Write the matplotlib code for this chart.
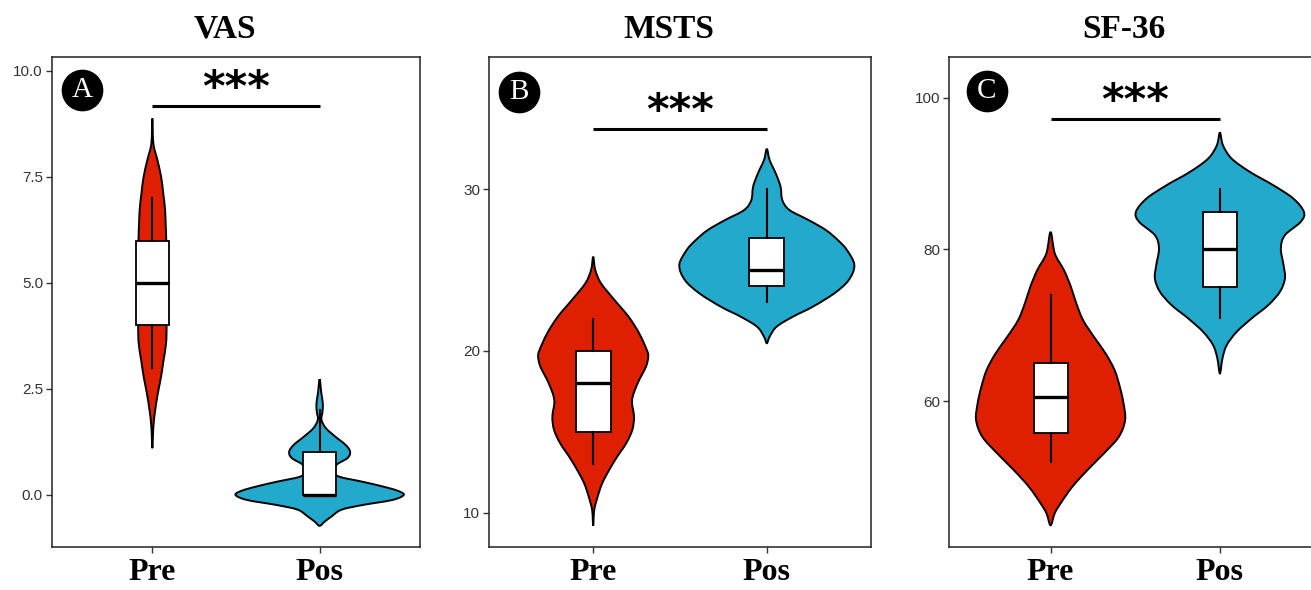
import matplotlib.pyplot as plt
from matplotlib.path import Path
from matplotlib.patches import PathPatch

groups = ["Pre", "Pos"]
titles = ["VAS", "MSTS", "SF-36"]
tags = ["A", "B", "C"]
colors = ["#DE2000", "#23A9CC"]

# violin outlines: value and half-width (in x units)
vas_pre_y = [8.88, 8.29, 7.90, 7.51, 7.12, 6.72, 6.33, 6.0, 5.0, 4.0, 3.58, 3.18, 2.79, 2.40, 2.0, 1.61, 1.10]
vas_pre_w = [0, 0.006, 0.030, 0.052, 0.065, 0.076, 0.080, 0.083, 0.086, 0.085, 0.082, 0.067, 0.052, 0.033, 0.017, 0.006, 0]
vas_pos_y = [2.73, 2.40, 2.16, 1.96, 1.77, 1.57, 1.37, 1.18, 1.02, 0.87, 0.71, 0.55, 0.43, 0.31, 0.20, 0.10, 0.0,
             -0.12, -0.24, -0.35, -0.51, -0.63, -0.73]
vas_pos_w = [0, 0.010, 0.019, 0.017, 0.011, 0.038, 0.095, 0.155, 0.182, 0.167, 0.101, 0.089, 0.116, 0.256, 0.375,
             0.464, 0.503, 0.435, 0.256, 0.131, 0.071, 0.030, 0]

msts_pre_y = [25.83, 25.01, 24.19, 23.15, 22.12, 21.09, 20.06, 19.65, 19.03, 18.0, 16.97, 15.94, 15.11, 14.29,
              13.46, 12.64, 11.82, 11.0, 10.17, 9.2]
msts_pre_w = [0, 0.012, 0.045, 0.123, 0.204, 0.265, 0.309, 0.317, 0.304, 0.256, 0.224, 0.235, 0.225, 0.190,
              0.138, 0.092, 0.052, 0.026, 0.006, 0]
msts_pos_y = [32.5, 31.81, 30.99, 30.16, 29.34, 28.72, 28.10, 27.48, 26.86, 26.25, 25.32, 24.39, 23.57, 22.74,
              22.12, 21.50, 20.88, 20.48]
msts_pos_w = [0, 0.016, 0.051, 0.079, 0.089, 0.130, 0.240, 0.340, 0.409, 0.461, 0.504, 0.472, 0.389, 0.265,
              0.150, 0.056, 0.016, 0]

sf36_pre_y = [82.3, 79.47, 77.27, 75.07, 72.88, 70.67, 68.47, 66.28, 64.08, 61.87, 59.68, 57.48, 55.28, 53.09,
              50.88, 48.68, 46.49, 45.17, 43.6]
sf36_pre_w = [0, 0.025, 0.079, 0.120, 0.152, 0.192, 0.256, 0.325, 0.378, 0.409, 0.431, 0.440, 0.403, 0.315,
              0.217, 0.128, 0.059, 0.024, 0]
sf36_pos_y = [95.44, 93.76, 92.0, 90.24, 88.48, 86.73, 84.96, 83.64, 81.89, 80.13, 77.93, 76.17, 74.41, 72.65,
              70.9, 69.13, 67.37, 65.62, 63.64]
sf36_pos_w = [0, 0.018, 0.069, 0.177, 0.315, 0.433, 0.496, 0.477, 0.384, 0.360, 0.376, 0.384, 0.354, 0.285,
              0.187, 0.099, 0.040, 0.015, 0]

# box stats: whisker low, q1, median, q3, whisker high
vas_pre_box = [3, 4, 5, 6, 7]
vas_pos_box = [0, 0, 0, 1, 2]
msts_pre_box = [13, 15, 18, 20, 22]
msts_pos_box = [23, 24, 25, 27, 30]
sf36_pre_box = [52, 55.75, 60.5, 65, 74]
sf36_pos_box = [71, 75, 80, 85, 88]

sig_y = [9.17, 33.75, 97.23]
ylims = [(-1.23, 10.33), (7.88, 38.18), (40.74, 105.4)]
yticks = [[0, 2.5, 5.0, 7.5, 10.0], [10, 20, 30], [60, 80, 100]]
ytick_fmt = ["{:.1f}", "{:.0f}", "{:.0f}"]

violins = [
    [(vas_pre_y, vas_pre_w), (vas_pos_y, vas_pos_w)],
    [(msts_pre_y, msts_pre_w), (msts_pos_y, msts_pos_w)],
    [(sf36_pre_y, sf36_pre_w), (sf36_pos_y, sf36_pos_w)],
]
boxes = [
    [vas_pre_box, vas_pos_box],
    [msts_pre_box, msts_pos_box],
    [sf36_pre_box, sf36_pos_box],
]


def violin_patch(x0, y, w, **kw):
    # outline through the read points, drawn as a smooth closed curve
    pts = [(x0 + a, b) for a, b in zip(w, y)]
    pts += [(x0 - a, b) for a, b in zip(w[::-1][1:-1], y[::-1][1:-1])]
    n = len(pts)
    verts = [pts[0]]
    codes = [Path.MOVETO]
    for k in range(n):
        p0, p1, p2, p3 = pts[k - 1], pts[k], pts[(k + 1) % n], pts[(k + 2) % n]
        c1 = (p1[0] + (p2[0] - p0[0]) / 6, p1[1] + (p2[1] - p0[1]) / 6)
        c2 = (p2[0] - (p3[0] - p1[0]) / 6, p2[1] - (p3[1] - p1[1]) / 6)
        verts += [c1, c2, p2]
        codes += [Path.CURVE4] * 3
    return PathPatch(Path(verts, codes), **kw)


W, H = 1311, 590
fig = plt.figure(figsize=(W / 100, H / 100), dpi=100)

# axes boxes in pixels: left, width
ax_px = [(52, 368), (489, 382), (949, 372.5)]
tag_pos = [(0.0815, 0.933), (0.0785, 0.929), (0.102, 0.931)]

for i in range(3):
    left, width = ax_px[i]
    ax = fig.add_axes([left / W, (H - 547) / H, width / W, 490 / H])
    pos = [1, 2]

    for j in range(2):
        y, w = violins[i][j]
        ax.add_patch(violin_patch(pos[j], y, w, facecolor=colors[j], edgecolor="black",
                                  linewidth=1.4, zorder=2))

    stats = []
    for b in boxes[i]:
        stats.append({"whislo": b[0], "q1": b[1], "med": b[2], "q3": b[3], "whishi": b[4], "fliers": []})
    ax.bxp(stats, positions=pos, widths=0.2, patch_artist=True, showcaps=False, showfliers=False,
           boxprops=dict(facecolor="white", edgecolor="black", linewidth=1.3),
           medianprops=dict(color="black", linewidth=2.4),
           whiskerprops=dict(color="black", linewidth=1.5), zorder=3)

    # significance bar
    ax.plot([1, 2], [sig_y[i], sig_y[i]], color="black", linewidth=2.2, solid_capstyle="butt", zorder=4)
    ax.annotate("***", xy=(1.5, sig_y[i]), xytext=(0, 3.5), textcoords="offset points",
                ha="center", va="baseline", fontsize=31, fontweight="bold", family="DejaVu Sans")

    # panel tag
    tx, ty = tag_pos[i]
    ax.plot([tx], [ty], "o", ms=29, color="black", transform=ax.transAxes, clip_on=False, zorder=5)
    ax.text(tx, ty, tags[i], transform=ax.transAxes, ha="center", va="center", color="white",
            fontsize=21, family="Liberation Serif", zorder=6)

    ax.set_xlim(0.4, 2.6)
    ax.set_ylim(*ylims[i])
    ax.set_xticks(pos)
    ax.set_xticklabels(groups, fontsize=23, fontweight="bold", family="Liberation Serif")
    ax.set_yticks(yticks[i])
    ax.set_yticklabels([ytick_fmt[i].format(v) for v in yticks[i]], fontsize=11,
                       family="Liberation Sans", color="#333333")
    ax.tick_params(axis="both", length=4, width=1.0, color="#333333")
    ax.tick_params(axis="x", pad=4)
    ax.tick_params(axis="y", pad=2.5)
    for s in ax.spines.values():
        s.set_linewidth(1.1)
        s.set_color("#222222")

    ax.set_title(titles[i], x=0.47, pad=14, fontsize=24, fontweight="bold", family="Liberation Serif")

fig.savefig("out.png", dpi=100)
